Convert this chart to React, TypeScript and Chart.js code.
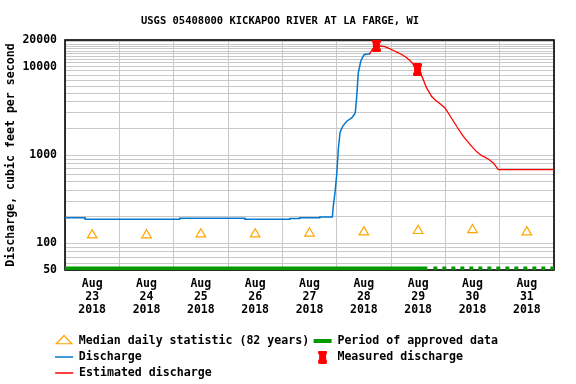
import React, { useEffect, useRef } from 'react';
import { Chart, registerables } from 'chart.js';

Chart.register(...registerables);

const TITLE = 'USGS 05408000 KICKAPOO RIVER AT LA FARGE, WI';
const Y_TITLE = 'Discharge, cubic feet per second';

// x axis: days since Aug 23 2018 00:00
const X_TICKS = [0, 0.5, 1, 1.5, 2, 2.5, 3, 3.5, 4, 4.5, 5, 5.5, 6, 6.5, 7, 7.5, 8, 8.5, 9];
const X_LABELS = [
  ['Aug', '23', '2018'],
  ['Aug', '24', '2018'],
  ['Aug', '25', '2018'],
  ['Aug', '26', '2018'],
  ['Aug', '27', '2018'],
  ['Aug', '28', '2018'],
  ['Aug', '29', '2018'],
  ['Aug', '30', '2018'],
  ['Aug', '31', '2018'],
];

const Y_LABELS = [50, 100, 1000, 10000, 20000];
const Y_GRID = [
  50, 60, 70, 80, 90,
  100, 200, 300, 400, 500, 600, 700, 800, 900,
  1000, 2000, 3000, 4000, 5000, 6000, 7000, 8000, 9000,
  10000, 11000, 12000, 13000, 14000, 15000, 16000, 17000, 18000, 19000, 20000,
];

const DISCHARGE_T = [
  0, 0.37, 0.37, 2.11, 2.11, 3.31, 3.31, 4.14, 4.14, 4.32, 4.32, 4.69, 4.69, 4.92,
  4.938, 4.97, 5.001, 5.03, 5.062, 5.111, 5.185, 5.277, 5.325, 5.343, 5.369, 5.398,
  5.443, 5.503, 5.583, 5.614,
];
const DISCHARGE_Q = [
  195, 195, 187, 187, 193, 193, 187, 187, 191, 191, 195, 195, 199, 199,
  264, 377, 603, 1154, 1795, 2113, 2410, 2630, 2870, 3020, 4600, 8500,
  11500, 13650, 14000, 14200,
];

const ESTIMATED_T = [
  5.601, 5.651, 5.73, 5.829, 5.89, 5.982, 6.043, 6.105, 6.197, 6.289, 6.381, 6.488,
  6.576, 6.657, 6.749, 6.81, 6.902, 6.994, 7.086, 7.21, 7.331, 7.486, 7.569, 7.67,
  7.791, 7.883, 7.975, 9,
];
const ESTIMATED_Q = [
  13600, 15500, 17400, 17000, 16800, 15900, 15200, 14600, 13700, 12600, 11200, 9200,
  7600, 5710, 4590, 4220, 3800, 3400, 2780, 2100, 1620, 1250, 1100, 982,
  900, 813, 682, 682,
];

const MEASURED_T = [5.73, 6.488];
const MEASURED_Q = [17200, 9200];

const MEDIAN_T = [0.5, 1.5, 2.5, 3.5, 4.5, 5.5, 6.5, 7.5, 8.5];
const MEDIAN_Q = [124, 124, 127, 127, 130, 134, 139, 142, 134];

const APPROVED_T = [0, 6.668];
const PROVISIONAL_T = [6.779, 9];
const PERIOD_LEVEL = 50;

const BLUE = 'rgb(0,120,205)';
const RED = '#ff0000';
const GREEN = '#009a00';
const ORANGE = '#ffa500';
const GRID = '#c8c8c8';
const FONT = 'DejaVu Sans Mono';

const pts = (t: number[], q: number[]) => t.map((x, i) => ({ x, y: q[i] }));

export default function App() {
  const ref = useRef<HTMLCanvasElement>(null);

  useEffect(() => {
    const canvas = ref.current;
    if (!canvas) return;

    const marker = document.createElement('canvas');
    marker.width = 9;
    marker.height = 13;
    const m = marker.getContext('2d')!;
    m.fillStyle = RED;
    m.beginPath();
    const poly = [
      [1, 0], [8, 0], [9, 1], [9, 3], [8, 4], [8, 9], [9, 10], [9, 12], [8, 13],
      [1, 13], [0, 12], [0, 10], [1, 9], [1, 4], [0, 3], [0, 1],
    ];
    poly.forEach(([px, py], i) => (i ? m.lineTo(px, py) : m.moveTo(px, py)));
    m.closePath();
    m.fill();

    const framePlugin = {
      id: 'frame',
      beforeDatasetsDraw(chart: any) {
        const { ctx, chartArea: a } = chart;
        ctx.save();
        ctx.strokeStyle = '#000';
        ctx.lineWidth = 1.6;
        ctx.strokeRect(a.left, a.top, a.right - a.left, a.bottom - a.top);
        ctx.restore();
      },
    };

    const legendItems = [
      { text: 'Median daily statistic (82 years)', pointStyle: 'triangle', strokeStyle: ORANGE, fillStyle: 'rgba(0,0,0,0)', lineWidth: 1.2, datasetIndex: 1 },
      { text: 'Period of approved data'.padEnd(24), pointStyle: 'line', strokeStyle: GREEN, fillStyle: GREEN, lineWidth: 4, datasetIndex: 4 },
      { text: 'Discharge'.padEnd(33), pointStyle: 'line', strokeStyle: BLUE, fillStyle: BLUE, lineWidth: 1.5, datasetIndex: 3 },
      { text: 'Measured discharge'.padEnd(24), pointStyle: marker, strokeStyle: RED, fillStyle: RED, lineWidth: 0, datasetIndex: 0 },
      { text: 'Estimated discharge'.padEnd(61), pointStyle: 'line', strokeStyle: RED, fillStyle: RED, lineWidth: 1.5, datasetIndex: 2 },
    ];

    const chart = new Chart(canvas, {
      type: 'line',
      data: {
        datasets: [
          {
            label: 'Measured discharge',
            data: pts(MEASURED_T, MEASURED_Q),
            showLine: false,
            pointStyle: marker as any,
            pointRadius: 6,
            borderColor: RED,
            backgroundColor: RED,
          },
          {
            label: 'Median daily statistic (82 years)',
            data: pts(MEDIAN_T, MEDIAN_Q),
            showLine: false,
            pointStyle: 'triangle',
            pointRadius: 5.5,
            pointBorderColor: ORANGE,
            pointBackgroundColor: 'rgba(0,0,0,0)',
            pointBorderWidth: 1.2,
          },
          {
            label: 'Estimated discharge',
            data: pts(ESTIMATED_T, ESTIMATED_Q),
            borderColor: RED,
            borderWidth: 1.3,
            pointRadius: 0,
            tension: 0,
          },
          {
            label: 'Discharge',
            data: pts(DISCHARGE_T, DISCHARGE_Q),
            borderColor: BLUE,
            borderWidth: 1.5,
            pointRadius: 0,
            tension: 0,
          },
          {
            label: 'Period of approved data',
            data: APPROVED_T.map((x) => ({ x, y: PERIOD_LEVEL })),
            borderColor: GREEN,
            borderWidth: 7,
            borderCapStyle: 'butt',
            pointRadius: 0,
            clip: 0 as any,
          },
          {
            label: 'Provisional',
            data: PROVISIONAL_T.map((x) => ({ x, y: PERIOD_LEVEL })),
            borderColor: GREEN,
            borderWidth: 7,
            borderDash: [4, 5],
            borderCapStyle: 'butt',
            pointRadius: 0,
            clip: 0 as any,
          },
        ] as any,
      },
      options: {
        animation: false,
        responsive: false,
        events: [],
        layout: { padding: { left: 6, right: 22, top: 0, bottom: 0.8 } },
        scales: {
          x: {
            type: 'linear',
            min: 0,
            max: 9,
            afterBuildTicks: (s: any) => {
              s.ticks = X_TICKS.map((v) => ({ value: v }));
            },
            afterFit: (s: any) => {
              s.height = 60.8;
            },
            ticks: {
              autoSkip: false,
              maxRotation: 0,
              minRotation: 0,
              padding: 7.7,
              color: '#000',
              font: { family: FONT, size: 11.5, weight: 'bold', lineHeight: 1.12 },
              callback: (v: any) => (Number.isInteger(v) ? '' : X_LABELS[Math.floor(v)]),
            },
            grid: {
              drawTicks: false,
              lineWidth: 1,
              color: (c: any) => (Number.isInteger(c.tick?.value) ? GRID : 'rgba(0,0,0,0)'),
            },
            border: { display: false },
          },
          y: {
            type: 'logarithmic',
            min: 50,
            max: 20000,
            afterBuildTicks: (s: any) => {
              s.ticks = Y_GRID.map((v) => ({ value: v }));
            },
            afterFit: (s: any) => {
              s.width = 59;
            },
            ticks: {
              autoSkip: false,
              padding: 8,
              color: '#000',
              font: { family: FONT, size: 11.5, weight: 'bold' },
              callback: (v: any) => (Y_LABELS.includes(Number(v)) ? String(v) : ''),
            },
            grid: { drawTicks: false, lineWidth: 1, color: GRID },
            border: { display: false },
            title: {
              display: true,
              text: Y_TITLE,
              color: '#000',
              font: { family: FONT, size: 11.6, weight: 'bold', lineHeight: 1 },
              padding: { top: -1, bottom: 0 },
            },
          },
        },
        plugins: {
          title: {
            display: true,
            text: TITLE,
            color: '#000',
            font: { family: FONT, size: 10.5, weight: 'bold', lineHeight: 1.2 },
            padding: { top: 14.9, bottom: 12.5 },
          },
          legend: {
            position: 'bottom',
            align: 'center',
            maxHeight: 52.4,
            labels: {
              usePointStyle: true,
              pointStyleWidth: 18,
              boxHeight: 7.8,
              padding: 4.4,
              color: '#000',
              font: { family: FONT, size: 11.6, weight: 'bold' },
              generateLabels: () =>
                legendItems.map((it) => ({
                  ...it,
                  hidden: false,
                  fontColor: '#000',
                  lineCap: 'butt',
                })) as any,
            },
          },
          tooltip: { enabled: false },
        },
      } as any,
      plugins: [framePlugin],
    });

    return () => chart.destroy();
  }, []);

  return (
    <div style={{ position: 'absolute', left: 0, top: 0, width: 576, height: 384, background: '#fff' }}>
      <canvas ref={ref} width={576} height={384} style={{ width: 576, height: 384, display: 'block' }} />
    </div>
  );
}
